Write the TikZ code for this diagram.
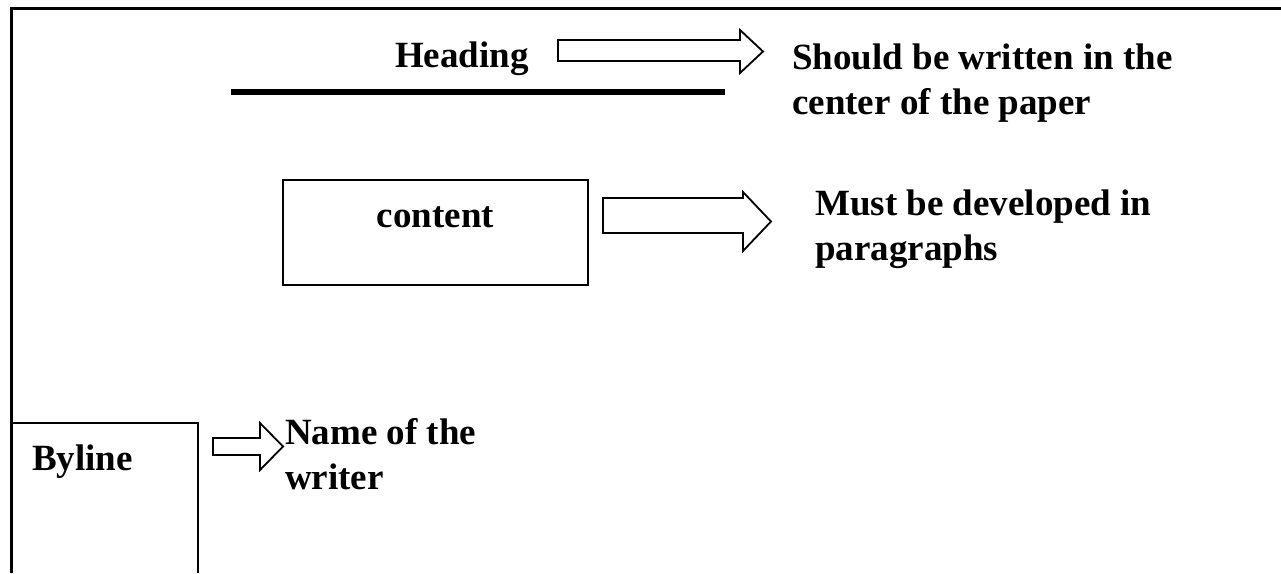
\documentclass[tikz,border=0pt]{standalone}
\usepackage{fontspec}
\setmainfont{Liberation Serif}
\usepackage{tikz}

\tikzset{
  label text/.style={font=\bfseries\fontsize{37}{45}\selectfont, inner sep=0pt, align=left},
  fat arrow/.style={draw, line width=1.8pt, fill=white, line join=miter},
  frame line/.style={line width=3pt},
  box line/.style={line width=1.8pt}
}

\begin{document}
\begin{tikzpicture}[x=1pt, y=-1pt]
\useasboundingbox (0,0) rectangle (1281,573);

% page border (top and left)
\draw[frame line] (11,573) -- (11,8) -- (1281,8);

% heading
\node[label text, anchor=base west] (heading) at (395,67) {Heading};
\draw[line width=6pt] (231,92) -- (725,92);
\draw[fat arrow] (558,40) -- (740,40) -- (740,30) -- (763,51.5) -- (740,73) -- (740,61) -- (558,61) -- cycle;
\node[label text, anchor=base west] (headingnote) at (792,114) {Should be written in the\\center of the paper};

% content
\node[draw, box line, minimum width=305pt, minimum height=105pt, inner sep=0pt] (contentbox) at (435.5,232.5) {};
\node[label text, anchor=base] (content) at (435.5,227) {content};
\draw[fat arrow] (603,198) -- (743,198) -- (743,192) -- (771,221.5) -- (743,251) -- (743,233) -- (603,233) -- cycle;
\node[label text, anchor=base west] (contentnote) at (815,260) {Must be developed in\\paragraphs};

% byline
\draw[box line] (11,423) -- (198,423) -- (198,573);
\node[label text, anchor=base west] (byline) at (32,470) {Byline};
\draw[fat arrow] (213,438) -- (260,438) -- (260,423) -- (283,446.5) -- (260,470) -- (260,455) -- (213,455) -- cycle;
\node[label text, anchor=base west] (bylinenote) at (285,489) {Name of the\\writer};

\end{tikzpicture}
\end{document}
